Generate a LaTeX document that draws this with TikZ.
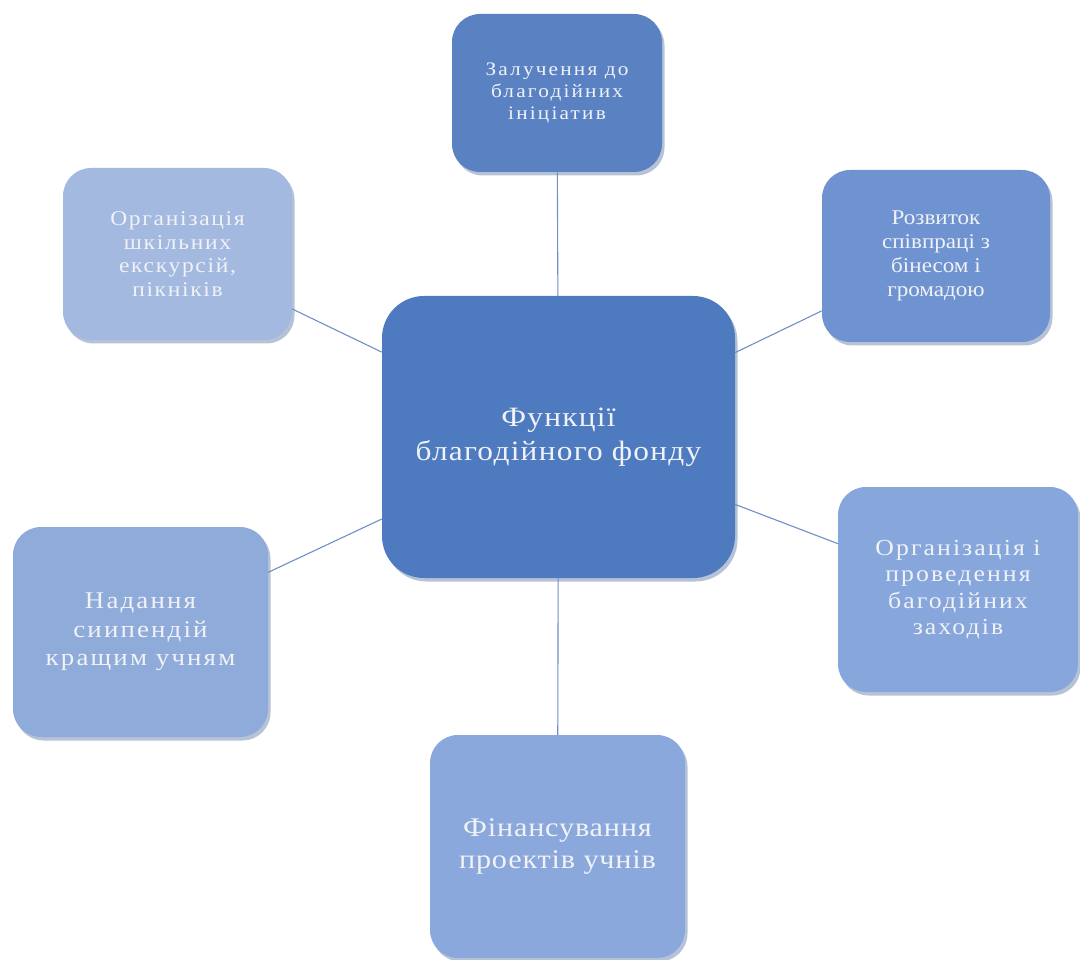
\documentclass[tikz,border=0pt]{standalone}
\usepackage{fontspec}
\setmainfont{Liberation Serif}
\usetikzlibrary{shadows}
\definecolor{cTop}{HTML}{5A82C3}
\definecolor{cTL}{HTML}{A4B9E0}
\definecolor{cTR}{HTML}{6E93D0}
\definecolor{cCen}{HTML}{4E7AC0}
\definecolor{cR}{HTML}{87A7DC}
\definecolor{cL}{HTML}{8FABD9}
\definecolor{cBot}{HTML}{8AA8DB}
\definecolor{cLine}{HTML}{6F8FC8}
\definecolor{cText}{HTML}{F0F2F7}
\definecolor{cShadow}{HTML}{2E4F8A}
\tikzset{
  fbox/.style={rectangle, rounded corners=28pt, align=center, text=cText, inner sep=0pt,
    drop shadow={opacity=0.35, shadow xshift=2.5pt, shadow yshift=-3.5pt, fill=cShadow}},
  conn/.style={draw=cLine, line width=1.1pt}
}
\newcommand{\bfnt}[4]{\addfontfeatures{FakeStretch=#4,LetterSpace=#3}\fontsize{#1}{#2}\selectfont}
\begin{document}
\begin{tikzpicture}[x=1pt, y=-1pt]
\useasboundingbox (0,0) rectangle (1080,960);
% center
\node[fbox, fill=cCen, minimum width=353pt, minimum height=282pt, rounded corners=42pt,
  font=\bfnt{28}{34}{4.5}{1.12}] (cen) at (558.5,437) {Функції\\благодійного фонду};
% top
\node[fbox, fill=cTop, minimum width=210pt, minimum height=158pt,
  font=\bfnt{19}{22}{11.5}{1.12}] (top) at (557,93) {Залучення до\\благодійних\\ініціатив};
% top-left
\node[fbox, fill=cTL, minimum width=229pt, minimum height=172pt,
  font=\bfnt{21}{23.5}{8}{1.12}] (tl) at (177.5,254) {Організація\\шкільних\\екскурсій,\\пікніків};
% top-right
\node[fbox, fill=cTR, minimum width=228pt, minimum height=172pt,
  font=\bfnt{21}{24}{0}{1.1}] (tr) at (936,256) {Розвиток\\співпраці з\\бінесом і\\громадою};
% right
\node[fbox, fill=cR, minimum width=240pt, minimum height=205pt,
  font=\bfnt{23}{26.5}{9}{1.12}] (rt) at (958,589.5) {Організація і\\проведення\\багодійних\\заходів};
% left
\node[fbox, fill=cL, minimum width=255pt, minimum height=210pt,
  font=\bfnt{24}{28.5}{9}{1.12}] (lf) at (140.5,632) {Надання\\сиипендій\\кращим учням};
% bottom
\node[fbox, fill=cBot, minimum width=255pt, minimum height=223pt,
  font=\bfnt{27}{32}{3}{1.12}] (bot) at (557.5,846.5) {Фінансування\\проектів учнів};
% connectors
\draw[conn] (top) -- (cen);
\draw[conn] (tl) -- (cen);
\draw[conn] (tr) -- (cen);
\draw[conn] (rt) -- (cen);
\draw[conn] (lf) -- (cen);
\draw[conn] (bot) -- (cen);
\end{tikzpicture}
\end{document}
